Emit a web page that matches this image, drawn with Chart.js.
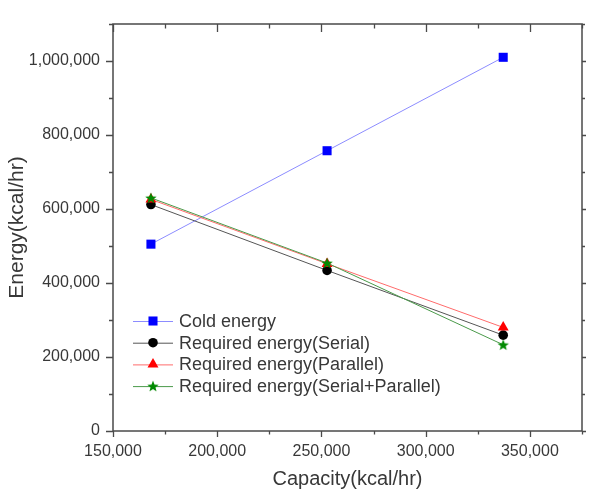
<!DOCTYPE html>
<html><head><meta charset="utf-8">
<script src="https://cdn.jsdelivr.net/npm/chart.js@4/dist/chart.umd.min.js"></script>
<style>html,body{margin:0;padding:0;background:#fff}#wrap{width:590px;height:493px;position:relative}</style>
</head><body><div id="wrap"><canvas id="c"></canvas></div>
<script>
const capacity = [168200, 252700, 337200];
const coldEnergy = [505000, 757500, 1010000];
const reqSerial = [612000, 434000, 259000];
const reqParallel = [626000, 452000, 280000];
const reqSerialParallel = [630000, 454000, 233000];
const seriesLabels = ['Cold energy', 'Required energy(Serial)', 'Required energy(Parallel)', 'Required energy(Serial+Parallel)'];
const xTicks = [150000, 200000, 250000, 300000, 350000];
const yTicks = [0, 200000, 400000, 600000, 800000, 1000000];
const xTitle = 'Capacity(kcal/hr)';
const yTitle = 'Energy(kcal/hr)';

function starCanvas(color, R, r) {
  const c = document.createElement('canvas');
  const s = Math.ceil(R * 2 + 2);
  c.width = s; c.height = s;
  const g = c.getContext('2d');
  g.fillStyle = color;
  g.beginPath();
  for (let i = 0; i < 10; i++) {
    const rad = i % 2 === 0 ? R : r;
    const a = -Math.PI / 2 + i * Math.PI / 5;
    const px = s / 2 + rad * Math.cos(a), py = s / 2 + rad * Math.sin(a) + 0.5;
    if (i === 0) g.moveTo(px, py); else g.lineTo(px, py);
  }
  g.closePath(); g.fill();
  return c;
}
const star = starCanvas('#008a00', 6, 2.6);

function pts(ys) { return capacity.map((x, i) => ({x: x, y: ys[i]})); }

const styles = [
  {line: '#8c8cff', fill: '#0000ff', ps: 'rect', r: 6.4},
  {line: '#555555', fill: '#000000', ps: 'circle', r: 4.8},
  {line: '#ff6b6b', fill: '#ff0000', ps: 'triangle', r: 6.3},
  {line: '#4a9a4a', fill: '#008a00', ps: star, r: 6}
];
const series = [coldEnergy, reqSerial, reqParallel, reqSerialParallel];
const datasets = series.map((s, i) => ({
  label: seriesLabels[i],
  data: pts(s),
  showLine: true,
  borderColor: styles[i].line,
  borderWidth: 1,
  backgroundColor: styles[i].fill,
  pointBackgroundColor: styles[i].fill,
  pointBorderColor: styles[i].fill,
  pointBorderWidth: 0,
  pointStyle: styles[i].ps,
  pointRadius: styles[i].r,
  order: 3 - i
}));

const FONT = "'Liberation Sans', Arial, sans-serif";
const TXT = '#383838';

const framePlugin = {
  id: 'frame',
  afterDatasetsDraw(chart) {
    const ctx = chart.ctx, a = chart.chartArea;
    const xs = chart.scales.x, ys = chart.scales.y;
    ctx.save();
    ctx.strokeStyle = '#4a4a4a';
    ctx.lineWidth = 1.5;
    ctx.strokeRect(a.left, a.top, a.right - a.left, a.bottom - a.top);
    ctx.lineWidth = 1.3;
    ctx.beginPath();
    for (let v = xs.min; v <= xs.max + 1; v += 25000) {
      const major = (v - xs.min) % 50000 === 0;
      const p = Math.round(xs.getPixelForValue(v)) + 0.5;
      const lb = major ? 6 : 3.5, lt = major ? 8 : 4.5;
      ctx.moveTo(p, a.bottom); ctx.lineTo(p, a.bottom + lb);
      ctx.moveTo(p, a.top); ctx.lineTo(p, a.top + lt);
    }
    for (let v = ys.min; v <= ys.max + 1; v += 100000) {
      const major = v % 200000 === 0;
      const p = Math.round(ys.getPixelForValue(v)) + 0.5;
      const ll = major ? 7 : 4, lr = major ? 4 : 3;
      ctx.moveTo(a.left, p); ctx.lineTo(a.left - ll, p);
      ctx.moveTo(a.right, p); ctx.lineTo(a.right + lr, p);
    }
    ctx.stroke();
    ctx.restore();
  },
  afterDraw(chart) {
    const ctx = chart.ctx;
    const x0 = 133, x1 = 173, xm = 153, xt = 179, y0 = 321, dy = 21.7;
    ctx.save();
    ctx.font = '18px ' + FONT;
    ctx.textBaseline = 'middle';
    chart.data.datasets.forEach((ds, i) => {
      const y = y0 + i * dy;
      ctx.strokeStyle = ds.borderColor;
      ctx.lineWidth = 1;
      ctx.beginPath(); ctx.moveTo(x0, y + 0.5); ctx.lineTo(x1, y + 0.5); ctx.stroke();
      ctx.fillStyle = ds.pointBackgroundColor;
      ctx.strokeStyle = ds.pointBackgroundColor;
      Chart.helpers.drawPoint(ctx, {pointStyle: ds.pointStyle, radius: ds.pointRadius, rotation: 0, borderWidth: 0}, xm, y);
      ctx.fillStyle = TXT;
      ctx.fillText(ds.label, xt, y + 1);
    });
    ctx.restore();
  }
};

new Chart(document.getElementById('c'), {
  type: 'scatter',
  data: {datasets: datasets},
  options: {
    responsive: true,
    maintainAspectRatio: false,
    animation: false,
    layout: {padding: {top: 24, right: 8, left: 0, bottom: 0}},
    plugins: {legend: {display: false}, tooltip: {enabled: false}},
    scales: {
      x: {
        type: 'linear', min: 150000, max: 375000,
        grid: {display: false, drawTicks: false},
        border: {display: false},
        afterBuildTicks: s => { s.ticks = xTicks.map(v => ({value: v})); },
        ticks: {font: {size: 16, family: FONT}, color: TXT, padding: 11, maxRotation: 0,
                callback: v => Number(v).toLocaleString('en-US')},
        title: {display: true, text: xTitle, font: {size: 20, family: FONT}, color: TXT, padding: {top: 0, bottom: 2}},
        afterFit: s => { s.height = 62; }
      },
      y: {
        type: 'linear', min: 0, max: 1100000,
        grid: {display: false, drawTicks: false},
        border: {display: false},
        afterBuildTicks: s => { s.ticks = yTicks.map(v => ({value: v})); },
        ticks: {font: {size: 16, family: FONT}, color: TXT, padding: 13,
                callback: v => Number(v).toLocaleString('en-US')},
        title: {display: true, text: yTitle, font: {size: 21, family: FONT}, color: TXT, padding: {top: 5, bottom: 0}},
        afterFit: s => { s.width = 113; }
      }
    }
  },
  plugins: [framePlugin]
});
</script>
</body></html>
